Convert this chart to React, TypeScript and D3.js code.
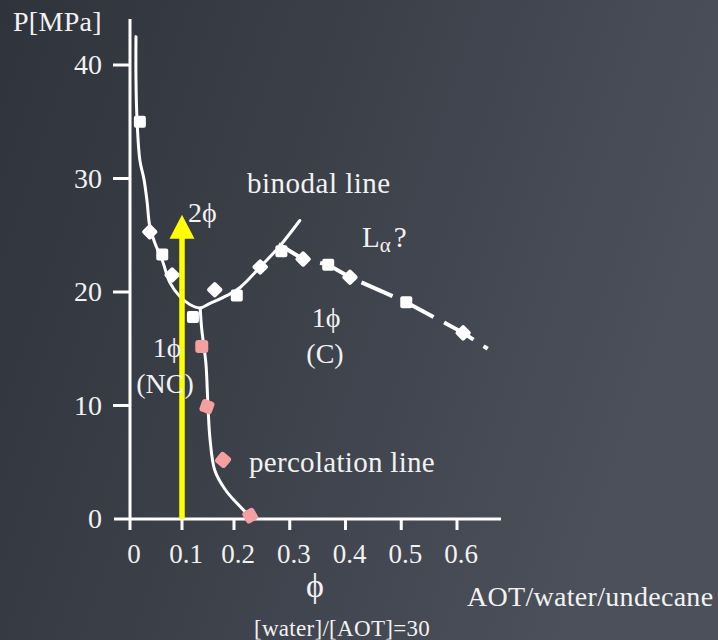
import React from "react";
import * as d3 from "d3";

const xTicks = [0, 0.1, 0.2, 0.3, 0.4, 0.5, 0.6];
const xTickLabels = ["0", "0.1", "0.2", "0.3", "0.4", "0.5", "0.6"];
const yTicks = [0, 10, 20, 30, 40];
const yTickLabels = ["0", "10", "20", "30", "40"];

// binodal line (solid)
const binodalPhi = [0.0115, 0.0115, 0.0135, 0.019, 0.027, 0.033, 0.038, 0.048, 0.062, 0.077, 0.096, 0.115, 0.135, 0.154, 0.187, 0.211, 0.247, 0.283, 0.318];
const binodalP = [42.5, 38.7, 35.2, 31.6, 29.9, 27.9, 25.8, 24.3, 22.8, 20.8, 19.6, 18.9, 18.6, 19.0, 19.7, 20.4, 22.2, 24.1, 26.3];

// binodal markers (white)
const binodalPtPhi = [0.019, 0.038, 0.062, 0.081, 0.121, 0.163, 0.205, 0.247, 0.285];
const binodalPtP = [35.0, 25.3, 23.3, 21.5, 17.8, 20.2, 19.7, 22.2, 23.6];

// L-alpha line (dashed)
const lalphaPhi = [0.28, 0.324, 0.369, 0.408, 0.509, 0.611, 0.655];
const lalphaP = [24.2, 22.9, 22.4, 21.3, 19.1, 16.4, 15.0];
const lalphaPtPhi = [0.324, 0.369, 0.408, 0.509, 0.611];
const lalphaPtP = [22.9, 22.4, 21.3, 19.1, 16.4];

// percolation line
const percPhi = [0.135, 0.138, 0.146, 0.150, 0.154, 0.163, 0.183, 0.205, 0.226];
const percP = [18.6, 16.7, 13.7, 9.9, 7.0, 4.3, 2.6, 1.4, 0.35];
const percPtPhi = [0.138, 0.148, 0.179, 0.229];
const percPtP = [15.2, 9.9, 5.2, 0.3];

// yellow arrow (path at phi = 0.1)
const arrowPhi = 0.1;
const arrowFromP = 0;
const arrowToP = 26.8;

const FONT = "'Liberation Serif', 'Times New Roman', serif";
const TXT = "#f2f2f2";

export default function App() {
  const x = d3.scaleLinear().domain([0, 0.2, 0.6]).range([130, 234, 457]);
  const y = d3.scaleLinear().domain([0, 40]).range([519, 65]);

  const line = d3
    .line<[number, number]>()
    .x((d) => x(d[0]))
    .y((d) => y(d[1]))
    .curve(d3.curveCatmullRom.alpha(0.5));

  const zip = (a: number[], b: number[]) => a.map((v, i) => [v, b[i]] as [number, number]);

  const binodal = line(zip(binodalPhi, binodalP)) || "";
  const lalpha = d3
    .line<[number, number]>()
    .x((d) => x(d[0]))
    .y((d) => y(d[1]))(zip(lalphaPhi, lalphaP)) || "";
  const perc = line(zip(percPhi, percP)) || "";

  const ax = x(arrowPhi);
  const ay0 = y(arrowFromP);
  const ay1 = y(arrowToP);

  const whiteMarkers = [...zip(binodalPtPhi, binodalPtP), ...zip(lalphaPtPhi, lalphaPtP)];

  return (
    <svg width={718} height={640} style={{ position: "absolute", left: 0, top: 0 }} fontFamily={FONT}>
      <defs>
        <linearGradient id="bg" x1="0" y1="0" x2="1" y2="0.3">
          <stop offset="0" stopColor="#2f333b" />
          <stop offset="0.45" stopColor="#3b3f48" />
          <stop offset="1" stopColor="#4b505b" />
        </linearGradient>
      </defs>
      <rect x={0} y={0} width={718} height={640} fill="url(#bg)" />

      {/* axes */}
      <line x1={130} x2={130} y1={19} y2={y(0)} stroke="#fff" strokeWidth={3} />
      <line x1={114} x2={501} y1={y(0)} y2={y(0)} stroke="#fff" strokeWidth={3} />
      {yTicks.slice(1).map((t) => (
        <line key={t} x1={113} x2={130} y1={y(t)} y2={y(t)} stroke="#fff" strokeWidth={3} />
      ))}
      {xTicks.map((t) => (
        <line key={t} x1={x(t)} x2={x(t)} y1={y(0)} y2={y(0) + 11} stroke="#fff" strokeWidth={3} />
      ))}
      {yTicks.map((t, i) => (
        <text key={t} x={102} y={y(t) + 9} textAnchor="end" fontSize={28} fill={TXT}>
          {yTickLabels[i]}
        </text>
      ))}
      {xTicks.map((t, i) => (
        <text key={t} x={x(t) + 4} y={563} textAnchor="middle" fontSize={27} fill={TXT}>
          {xTickLabels[i]}
        </text>
      ))}
      <text x={13} y={31} fontSize={28} fill={TXT} letterSpacing={0.3}>P[MPa]</text>
      <text x={315} y={597} textAnchor="middle" fontSize={34} fill={TXT}>ϕ</text>
      <text x={467} y={606} fontSize={28} fill={TXT} letterSpacing={0.3}>AOT/water/undecane</text>
      <text x={342} y={636} textAnchor="middle" fontSize={23} fill={TXT} letterSpacing={0.3}>[water]/[AOT]=30</text>

      {/* curves */}
      <path d={binodal} fill="none" stroke="#fff" strokeWidth={3} strokeLinecap="round" />
      <path d={lalpha} fill="none" stroke="#fff" strokeWidth={4} strokeDasharray="34 12" />
      <path d={perc} fill="none" stroke="#fff" strokeWidth={3} strokeLinecap="round" />

      {/* markers */}
      {whiteMarkers.map((d, i) => (
        <rect
          key={"w" + i}
          x={-6}
          y={-6}
          width={12}
          height={12}
          rx={2}
          fill="#fff"
          transform={`translate(${x(d[0])},${y(d[1])}) rotate(${i % 2 === 0 ? 0 : 45})`}
        />
      ))}
      {zip(percPtPhi, percPtP).map((d, i) => (
        <rect
          key={"p" + i}
          x={-6.5}
          y={-6.5}
          width={13}
          height={13}
          rx={3}
          fill="#f4a0a0"
          transform={`translate(${x(d[0])},${y(d[1])}) rotate(${i * 20})`}
        />
      ))}

      {/* yellow arrow */}
      <line x1={ax} x2={ax} y1={ay0} y2={ay1 + 22} stroke="#ffff00" strokeWidth={5.5} />
      <path d={`M${ax},${ay1} L${ax - 12.5},${ay1 + 24} L${ax + 12.5},${ay1 + 24} Z`} fill="#ffff00" />

      {/* labels */}
      <text x={247} y={193} fontSize={29} fill={TXT} letterSpacing={0.5}>binodal line</text>
      <text x={188} y={222} fontSize={28} fill={TXT}>2ϕ</text>
      <text x={362} y={247} fontSize={29} fill={TXT}>
        L<tspan fontSize={21} dy={5}>α</tspan><tspan dy={-5} dx={3}>?</tspan>
      </text>
      <text x={326} y={327} textAnchor="middle" fontSize={28} fill={TXT}>1ϕ</text>
      <text x={325} y={363} textAnchor="middle" fontSize={28} fill={TXT}>(C)</text>
      <text x={167} y={357} textAnchor="middle" fontSize={28} fill={TXT}>1ϕ</text>
      <text x={165} y={393} textAnchor="middle" fontSize={28} fill={TXT}>(NC)</text>
      <text x={249} y={472} fontSize={29} fill={TXT} letterSpacing={0.3}>percolation line</text>
    </svg>
  );
}
